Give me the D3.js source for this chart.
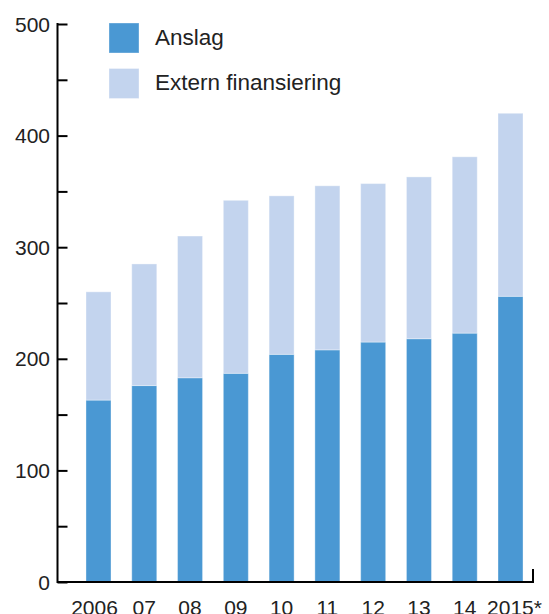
<!DOCTYPE html>
<html>
<head>
<meta charset="utf-8">
<script src="https://cdn.jsdelivr.net/npm/d3@7"></script>
<style>
  html, body { margin: 0; padding: 0; background: #fff; }
  svg { display: block; font-family: "Liberation Sans", Arial, sans-serif; }
  .tickLabel { font-size: 21px; fill: #222; }
  .legendText { font-size: 22.5px; fill: #222; }
</style>
</head>
<body>
<script>
// Data {{{1
const years = ["2006", "07", "08", "09", "10", "11", "12", "13", "14", "2015*"];
const anslag = [163, 176, 183, 187, 204, 208, 215, 218, 223, 256];
const externFinansiering = [97, 109, 127, 155, 142, 147, 142, 145, 158, 164];
const seriesNames = ["Anslag", "Extern finansiering"];
const seriesColors = ["#4a98d3", "#c3d4ee"];
const yTicks = [0, 100, 200, 300, 400, 500];
const yMinorTicks = [50, 150, 250, 350, 450];

// Main {{{1
const width = 549, height = 614;
const svg = d3.select("body").append("svg")
    .attr("width", width)
    .attr("height", height);

const x = d3.scaleBand()
    .domain(years)
    .range([75.6, 533.4])
    .paddingInner(0.454)
    .paddingOuter(0.227);

const y = d3.scaleLinear()
    .domain([0, 500])
    .range([582, 24]);

const table = years.map((yr, i) => ({ year: yr, Anslag: anslag[i], "Extern finansiering": externFinansiering[i] }));
const stacked = d3.stack().keys(seriesNames)(table);

// bars
svg.selectAll(".series")
    .data(stacked)
    .join("g")
    .classed("series", true)
    .attr("fill", (d, i) => seriesColors[i])
    .selectAll("rect")
    .data((d) => d)
    .join("rect")
    .attr("x", (d) => x(d.data.year))
    .attr("y", (d) => y(d[1]))
    .attr("width", x.bandwidth())
    .attr("height", (d) => y(d[0]) - y(d[1]))
    .attr("stroke", "rgba(255,255,255,0.35)")
    .attr("stroke-width", 1);

// y axis, ticks pointing inward
const x0 = 57.5;
const yAxis = svg.append("g")
    .attr("transform", `translate(${x0},0)`)
    .call(d3.axisRight(y).tickValues(yTicks.concat(yMinorTicks)).tickSize(10).tickFormat(""));
yAxis.select(".domain").remove();
yAxis.selectAll("line").attr("stroke", "#000").attr("stroke-width", 2);
svg.append("line")
    .attr("x1", x0).attr("x2", x0)
    .attr("y1", y(500) - 1).attr("y2", y(0) + 1)
    .attr("stroke", "#000").attr("stroke-width", 2);

svg.selectAll(".yLabel")
    .data(yTicks)
    .join("text")
    .classed("tickLabel", true)
    .attr("x", 50)
    .attr("y", (d) => y(d))
    .attr("dy", "0.36em")
    .attr("text-anchor", "end")
    .text((d) => d);

// x axis baseline with end tick
const xEnd = 533;
svg.append("path")
    .attr("d", `M${x0},${y(0)}H${xEnd}V${y(0) - 13}`)
    .attr("fill", "none")
    .attr("stroke", "#000")
    .attr("stroke-width", 2);

svg.selectAll(".xLabel")
    .data(years)
    .join("text")
    .classed("tickLabel", true)
    .attr("x", (d) => x(d) + x.bandwidth() / 2 + (d === "2006" ? -4 : d.endsWith("*") ? 4 : 0))
    .attr("y", 615)
    .attr("text-anchor", "middle")
    .text((d) => d);

// legend
const legend = svg.selectAll(".legend")
    .data(seriesNames)
    .join("g")
    .classed("legend", true)
    .attr("transform", (d, i) => `translate(109,${23 + i * 45.5})`);
legend.append("rect")
    .attr("width", 30)
    .attr("height", 30)
    .attr("fill", (d, i) => seriesColors[i])
    .attr("stroke", "rgba(255,255,255,0.35)");
legend.append("text")
    .classed("legendText", true)
    .attr("x", 46)
    .attr("y", 21.5)
    .text((d) => d);
</script>
</body>
</html>
